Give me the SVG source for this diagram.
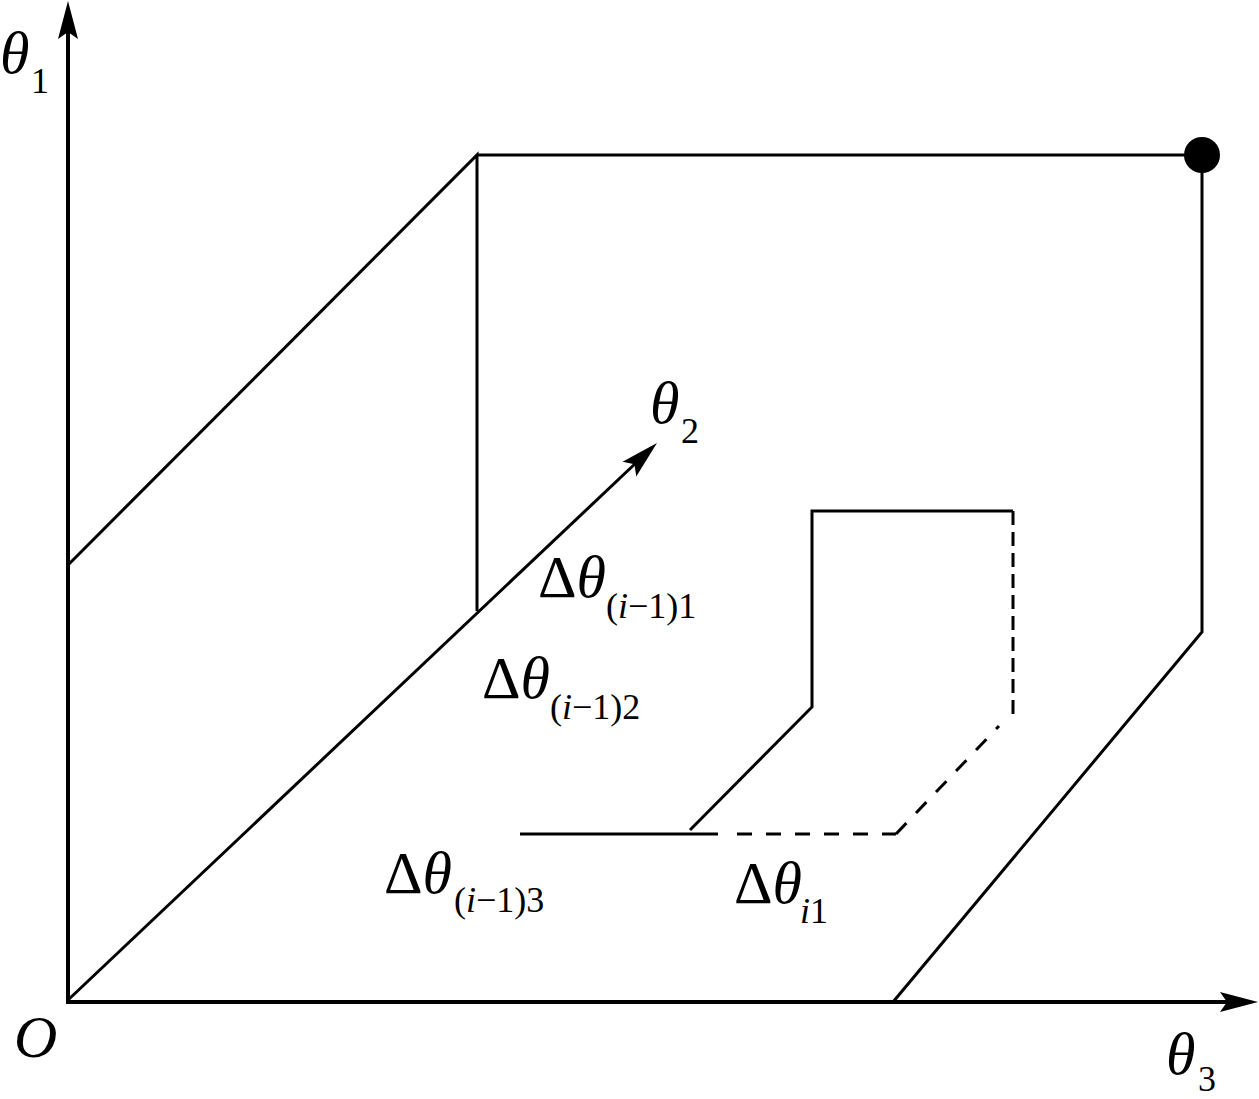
<svg xmlns="http://www.w3.org/2000/svg" width="1259" height="1099" viewBox="0 0 1259 1099">
<style>
.ax{stroke:#000;stroke-width:4;fill:none}
.ln{stroke:#000;stroke-width:3;fill:none}
.ds{stroke:#000;stroke-width:3;fill:none;stroke-dasharray:15 14}
.dv{stroke:#000;stroke-width:3;fill:none;stroke-dasharray:14 7}
</style>
<defs>
<path id="ah" d="M0,0 L-38,-10 L-31,0 L-38,10 Z" fill="#000"/>
</defs>
<rect width="1259" height="1099" fill="#fff"/>
<g id="connectors">
<line class="ax" x1="68" y1="1002" x2="68" y2="25"/>
<line class="ax" x1="66" y1="1002" x2="1232" y2="1002"/>
<line class="ln" x1="68" y1="1000" x2="638" y2="461"/>
<use href="#ah" transform="translate(68,1) rotate(-90)"/>
<use href="#ah" transform="translate(1258,1002)"/>
<use href="#ah" transform="translate(657,443) rotate(-43.4)"/>
<polyline class="ln" points="68,565 477,155 477,611"/>
<line class="ln" x1="477" y1="155" x2="1202" y2="155"/>
<polyline class="ln" points="1202,155 1202,632 893,1002"/>
<circle cx="1202" cy="155" r="18" fill="#000"/>
<line class="ln" x1="520" y1="834" x2="718" y2="834"/>
<polyline class="ln" points="690,830 812,707 812,511 1013,511"/>
<line class="ds" x1="737" y1="834" x2="896" y2="834"/>
<line class="ds" x1="896" y1="834" x2="999" y2="726"/>
<line class="dv" x1="1013" y1="511" x2="1013" y2="716"/>
</g>
<g id="labels" fill="#000">
<text font-family="'Liberation Serif'" font-size="60" font-style="italic" x="0" y="73">θ</text>
<text font-family="'Liberation Serif'" font-size="36" x="31" y="93">1</text>
<text font-family="'Liberation Serif'" font-size="60" font-style="italic" x="650" y="423">θ</text>
<text font-family="'Liberation Serif'" font-size="36" x="681" y="443">2</text>
<text font-family="'Liberation Serif'" font-size="60" font-style="italic" x="1166" y="1074">θ</text>
<text font-family="'Liberation Serif'" font-size="36" x="1198" y="1091">3</text>
<text font-family="'Liberation Serif'" font-size="60" font-style="italic" x="14" y="1057">O</text>
<text font-family="'Liberation Serif'" font-size="60" x="538" y="597">Δ<tspan font-style="italic">θ</tspan><tspan font-size="36" x="606" y="618">(<tspan font-style="italic">i</tspan>−1)1</tspan></text>
<text font-family="'Liberation Serif'" font-size="60" x="482" y="698">Δ<tspan font-style="italic">θ</tspan><tspan font-size="36" x="550" y="719">(<tspan font-style="italic">i</tspan>−1)2</tspan></text>
<text font-family="'Liberation Serif'" font-size="60" x="384" y="893">Δ<tspan font-style="italic">θ</tspan><tspan font-size="36" x="454" y="912">(<tspan font-style="italic">i</tspan>−1)3</tspan></text>
<text font-family="'Liberation Serif'" font-size="60" x="734" y="903">Δ<tspan font-style="italic">θ</tspan><tspan font-size="36" font-style="italic" x="800" y="923">i</tspan><tspan font-size="36">1</tspan></text>
</g>
</svg>
